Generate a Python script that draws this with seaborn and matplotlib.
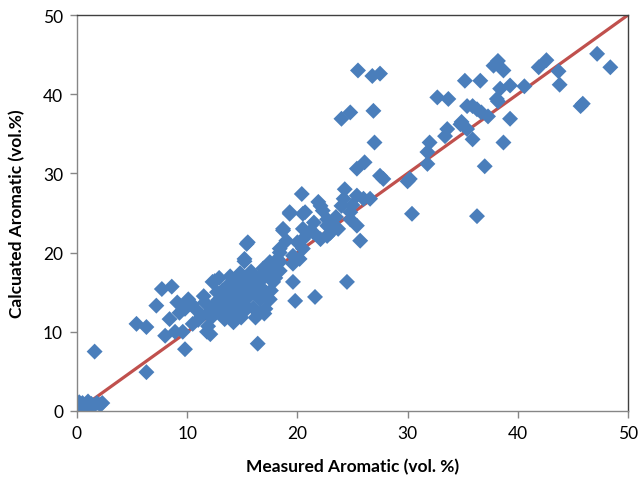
import matplotlib
matplotlib.use("Agg")
import matplotlib.pyplot as plt
import seaborn as sns
import pandas as pd

measured = [
    0.0, 0.2, 0.4, 0.5, 0.8, 1.0, 1.1, 1.3, 1.5, 1.8, 2.1, 2.3, 0.3, 1.0,
    1.6, 6.3, 5.4, 6.3, 7.2, 7.7, 8.6, 8.0, 8.9, 9.6, 9.8, 8.4, 9.1, 9.8, 10.1, 9.3,
    10.4, 10.8, 11.8, 11.9, 11.6, 12.1, 12.5, 12.3, 12.7, 13.3, 13.9, 14.2, 13.9, 14.5,
    15.1, 15.4, 15.5, 15.2, 15.4, 15.2, 16.0, 16.6, 16.6, 16.4, 17.1, 17.5, 17.8, 18.4,
    18.4, 18.7, 19.3, 19.8, 19.6, 20.2, 20.5, 20.7, 21.6, 21.4, 22.7, 22.1, 24.5, 19.6,
    12.0, 12.4, 12.8, 13.0, 13.2, 13.5, 13.7, 13.8, 14.0, 14.1, 14.3, 14.4, 14.6, 14.7,
    14.8, 15.0, 15.2, 15.3, 15.5, 15.6, 15.8, 16.0, 16.2, 16.4, 16.5, 16.7, 16.9, 17.0,
    17.2, 17.4, 17.6, 17.9, 18.0, 18.2, 11.3, 11.0, 12.2, 13.4, 14.9, 16.2, 17.0, 10.5,
    11.5, 12.9,
    20.4, 19.3, 20.5, 21.9, 22.3, 22.7, 23.1, 23.7, 24.8, 25.4, 25.7, 18.7, 20.5, 21.1,
    22.1, 22.7, 20.0, 20.5, 18.4, 19.6, 17.5, 18.4, 24.3, 25.4, 26.0, 26.6, 24.0, 24.8,
    25.4, 26.1, 27.5, 27.8, 27.0, 23.5, 24.2, 25.0, 21.5, 19.0, 23.0,
    24.8, 24.0, 25.5, 26.8, 27.5, 26.9,
    30.2, 30.4, 31.8, 31.8, 32.0, 33.4, 33.6, 32.7, 33.7, 34.8, 35.4, 35.9, 35.2, 36.6,
    35.4, 35.9, 36.7, 37.3, 36.3, 37.0, 38.7, 39.3, 38.1, 38.4, 37.8, 38.2, 38.7, 39.3,
    40.6, 41.9, 42.6, 43.7, 43.8, 45.9, 45.7, 47.2, 48.4, 36.3, 38.2, 30.0, 34.9,
]

calculated = [
    0.9, 1.1, 0.6, 1.0, 0.8, 1.2, 0.5, 0.9, 0.7, 1.0, 0.8, 1.0, 0.3, 0.4,
    7.5, 4.9, 11.0, 10.6, 13.3, 15.4, 15.7, 9.5, 10.0, 10.0, 7.8, 11.6, 13.7, 12.9, 14.1, 12.4,
    13.5, 12.8, 10.0, 10.7, 13.7, 9.7, 16.4, 16.3, 15.0, 13.7, 12.0, 11.2, 17.0, 15.8,
    14.5, 12.9, 21.3, 19.2, 21.1, 18.9, 15.8, 14.1, 17.0, 8.5, 12.9, 14.1, 16.3, 20.0,
    17.7, 22.8, 24.9, 13.9, 16.3, 19.2, 21.7, 25.1, 14.4, 22.6, 23.4, 25.9, 16.3, 18.6,
    12.5, 13.2, 14.0, 12.6, 15.2, 14.6, 13.0, 16.0, 14.0, 15.2, 12.8, 16.5, 13.6, 14.8,
    17.4, 15.6, 13.4, 16.8, 14.3, 15.5, 17.6, 13.0, 16.4, 14.8, 12.3, 15.6, 18.0, 16.9,
    14.9, 17.5, 15.2, 18.5, 16.8, 19.2, 12.0, 11.5, 11.8, 11.6, 11.8, 11.8, 12.3, 11.0,
    14.5, 16.8,
    27.4, 25.1, 24.9, 26.4, 25.3, 24.2, 23.4, 23.0, 24.2, 23.4, 21.5, 23.0, 23.0, 22.6,
    21.7, 22.1, 21.3, 20.5, 20.5, 19.6, 18.8, 18.8, 28.0, 27.2, 26.8, 26.8, 25.9, 25.1,
    30.6, 31.4, 29.7, 29.3, 33.9, 24.5, 26.8, 26.0, 23.8, 21.5, 22.5,
    37.7, 36.9, 43.0, 42.3, 42.6, 37.9,
    29.3, 24.9, 32.7, 31.2, 33.9, 34.7, 35.6, 39.6, 39.4, 36.2, 35.6, 34.3, 41.7, 41.7,
    38.5, 38.5, 37.7, 37.2, 24.6, 30.9, 33.9, 36.9, 39.4, 40.7, 43.6, 44.2, 43.0, 41.1,
    41.0, 43.4, 44.3, 42.9, 41.2, 38.8, 38.5, 45.1, 43.4, 38.1, 39.1, 29.0, 36.5,
]

line_x = [0, 50]
line_y = [0, 50]

x_ticks = [0, 10, 20, 30, 40, 50]
y_ticks = [0, 10, 20, 30, 40, 50]

df = pd.DataFrame({"Measured": measured, "Calculated": calculated})
line_df = pd.DataFrame({"x": line_x, "y": line_y})

sns.set_style("white")
plt.rcParams["font.family"] = ["Lato", "DejaVu Sans"]

fig = plt.figure(figsize=(6.4, 4.81), dpi=100)
ax = fig.add_axes([0.1203, 0.1435, 0.8609, 0.8232])

sns.lineplot(data=line_df, x="x", y="y", ax=ax, color="#C0504D", linewidth=2.3, zorder=1)
sns.scatterplot(data=df, x="Measured", y="Calculated", ax=ax, marker="D", s=66,
                color="#4A7EBB", edgecolor="none", linewidth=0, zorder=2)

ax.set_xlim(0, 50)
ax.set_ylim(0, 50)
ax.set_xticks(x_ticks)
ax.set_yticks(y_ticks)
ax.tick_params(axis="both", direction="out", length=5, width=1, color="#868686",
               labelsize=12.5, labelcolor="#000000", pad=5, bottom=True, left=True)

for side in ["left", "bottom"]:
    ax.spines[side].set_color("#868686")
    ax.spines[side].set_linewidth(1)
for side in ["top", "right"]:
    ax.spines[side].set_color("#404040")
    ax.spines[side].set_linewidth(1)

ax.set_xlabel("Measured Aromatic (vol. %)", fontsize=12.5, fontweight="bold",
              color="#000000", labelpad=12)
ax.set_ylabel("Calcuated Aromatic (vol.%)", fontsize=12.5, fontweight="bold",
              color="#000000", labelpad=13)

fig.savefig("out.png", dpi=100)
